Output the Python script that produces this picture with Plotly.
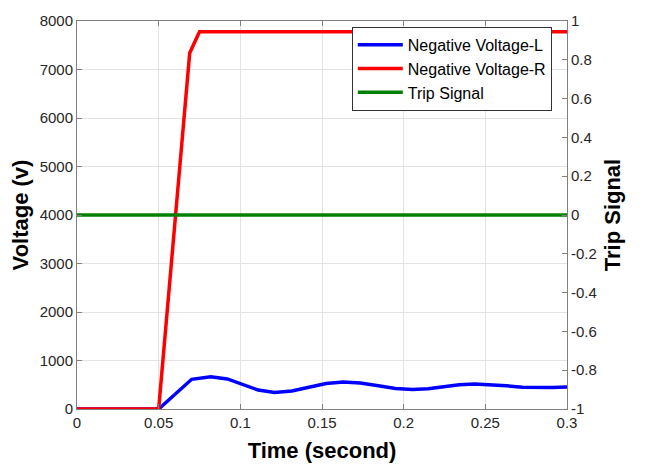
import plotly.graph_objects as go

# Data
t_L = [0, 0.05, 0.0702, 0.0819, 0.092, 0.1015, 0.111, 0.121, 0.1315, 0.142, 0.1525, 0.163,
       0.1735, 0.1845, 0.195, 0.2055, 0.215, 0.2245, 0.234, 0.2434, 0.2532, 0.263, 0.2727,
       0.2825, 0.291, 0.3]
v_L = [0, 0, 612, 667, 620, 505, 390, 340, 372, 450, 525, 558,
       535, 480, 425, 401, 418, 458, 498, 515, 504, 478, 451,
       440, 445, 456]

t_R = [0, 0.05, 0.069, 0.075, 0.3]
v_R = [0, 0, 7340, 7780, 7780]

t_trip = [0, 0.3]
trip = [0, 0]

x_ticks = [0, 0.05, 0.1, 0.15, 0.2, 0.25, 0.3]
x_ticktext = ["0", "0.05", "0.1", "0.15", "0.2", "0.25", "0.3"]
y_ticks = [0, 1000, 2000, 3000, 4000, 5000, 6000, 7000, 8000]
y2_ticks = [-1, -0.8, -0.6, -0.4, -0.2, 0, 0.2, 0.4, 0.6, 0.8, 1]
y2_ticktext = ["-1", "-0.8", "-0.6", "-0.4", "-0.2", "0", "0.2", "0.4", "0.6", "0.8", "1"]

fig = go.Figure()
fig.add_trace(go.Scatter(x=t_L, y=v_L, mode="lines", name="Negative Voltage-L",
                         line=dict(color="#0000ff", width=3.5)))
fig.add_trace(go.Scatter(x=t_R, y=v_R, mode="lines", name="Negative Voltage-R",
                         line=dict(color="#ff0000", width=3.5)))
fig.add_trace(go.Scatter(x=t_trip, y=trip, mode="lines", name="Trip Signal", yaxis="y2",
                         line=dict(color="#008000", width=3.5)))

axcol = "#808080"
tickfont = dict(family="Liberation Sans, Arial, sans-serif", size=15, color="#262626")
titlefont = dict(family="Liberation Sans, Arial, sans-serif", size=22, color="#000000")

fig.update_layout(
    width=655, height=467,
    margin=dict(l=77, r=88, t=12, b=58),
    plot_bgcolor="white", paper_bgcolor="white",
    showlegend=True,
    legend=dict(x=0.969, y=0.985, xanchor="right", yanchor="top",
                bgcolor="white", bordercolor="#333333", borderwidth=1,
                font=dict(family="Liberation Sans, Arial, sans-serif", size=16, color="#000000"),
                tracegroupgap=0, itemwidth=45),
    xaxis=dict(range=[0, 0.3], tickvals=x_ticks, ticktext=x_ticktext,
               showgrid=True, gridcolor="#e3e3e3", gridwidth=1,
               showline=True, linecolor=axcol, linewidth=1, mirror="ticks",
               ticks="inside", ticklen=5, tickcolor=axcol, zeroline=False,
               tickfont=tickfont, automargin=False,
               title=dict(text="<b>Time (second)</b>", font=titlefont, standoff=12)),
    yaxis=dict(range=[0, 8000], tickvals=y_ticks,
               showgrid=True, gridcolor="#e3e3e3", gridwidth=1,
               showline=True, linecolor=axcol, linewidth=1,
               ticks="inside", ticklen=5, tickcolor=axcol, zeroline=False,
               tickfont=tickfont,
               title=dict(text="<b>Voltage (v)</b>", font=titlefont, standoff=4)),
    yaxis2=dict(range=[-1, 1], tickvals=y2_ticks, ticktext=y2_ticktext,
                overlaying="y", side="right", showgrid=False,
                showline=True, linecolor=axcol, linewidth=1,
                ticks="inside", ticklen=5, tickcolor=axcol, zeroline=False,
                tickfont=tickfont,
                title=dict(text="<b>Trip Signal</b>", font=titlefont, standoff=8)),
)

fig.write_html("out.html")
